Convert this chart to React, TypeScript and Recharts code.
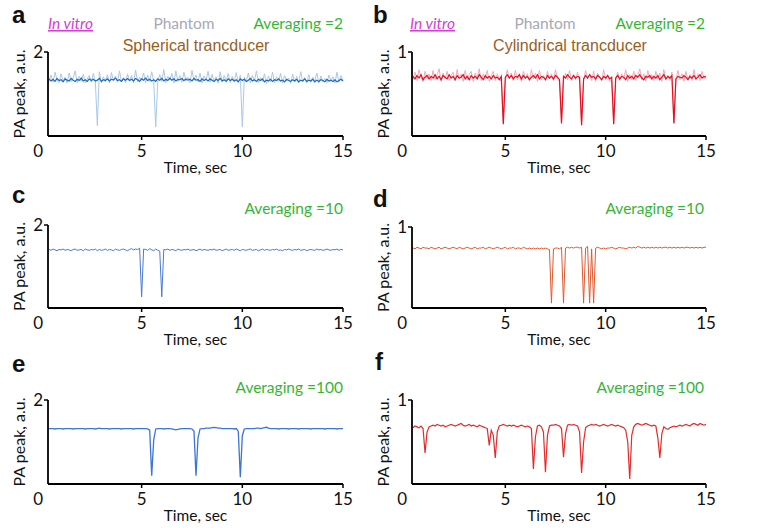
import React from "react";
import { Line, LineChart, XAxis, YAxis } from "recharts";

// sampling grid, seconds (0.4 … 15.0 in 0.1 s steps)
const sampleTimes = Array.from({ length: 147 }, (_, i) => Math.round((0.4 + i * 0.1) * 10) / 10);
const timeTicks = [0.35, 5, 10, 15];

// a – spherical, averaging 2 (dark core + light spikes)
const darkA = [
  1.36, 1.31, 1.35, 1.30, 1.37, 1.32, 1.34, 1.29, 1.36, 1.33,
  1.31, 1.37, 1.33, 1.30, 1.35, 1.32, 1.38, 1.31, 1.34, 1.30,
  1.36, 1.32, 1.35, 1.31, 1.33, 1.37, 1.30, 1.34, 1.32, 1.36,
  1.31, 1.35, 1.33, 1.38, 1.32, 1.34, 1.30, 1.36, 1.33, 1.37,
  1.32, 1.35, 1.31, 1.37, 1.34, 1.30, 1.36, 1.33, 1.38, 1.32,
  1.35, 1.31, 1.34, 1.30, 1.36, 1.33, 1.37, 1.31, 1.35, 1.32,
  1.38, 1.33, 1.36, 1.31, 1.35, 1.34, 1.37, 1.32, 1.36, 1.33,
  1.35, 1.31, 1.37, 1.33, 1.34, 1.30, 1.36, 1.32, 1.35, 1.31,
  1.36, 1.33, 1.30, 1.35, 1.32, 1.37, 1.31, 1.34, 1.30, 1.36,
  1.32, 1.35, 1.31, 1.34, 1.29, 1.36, 1.32, 1.35, 1.30, 1.33,
  1.37, 1.31, 1.34, 1.30, 1.35, 1.32, 1.36, 1.29, 1.33, 1.31,
  1.35, 1.30, 1.34, 1.32, 1.36, 1.31, 1.33, 1.29, 1.35, 1.32,
  1.30, 1.34, 1.31, 1.35, 1.29, 1.33, 1.31, 1.36, 1.30, 1.33,
  1.31, 1.35, 1.29, 1.33, 1.30, 1.34, 1.32, 1.29, 1.35, 1.31,
  1.33, 1.30, 1.34, 1.29, 1.32, 1.35, 1.31,
];
const lightA = [
  1.30, 1.45, 1.28, 1.52, 1.33, 1.27, 1.48, 1.31, 1.40, 1.26,
  1.50, 1.29, 1.38, 1.55, 1.27, 1.42, 1.30, 1.47, 1.26, 1.36,
  1.44, 1.28, 1.49, 1.30, 0.25, 1.53, 1.27, 1.41, 1.29, 1.46,
  1.26, 1.51, 1.32, 1.43, 1.28, 1.55, 1.30, 1.39, 1.27, 1.48,
  1.31, 1.44, 1.26, 1.57, 1.29, 1.40, 1.33, 1.50, 1.27, 1.45,
  1.29, 1.53, 1.31, 0.22, 1.28, 1.46, 1.30, 1.58, 1.27, 1.42,
  1.33, 1.49, 1.26, 1.55, 1.30, 1.44, 1.28, 1.52, 1.31, 1.40,
  1.27, 1.56, 1.32, 1.45, 1.29, 1.50, 1.26, 1.43, 1.33, 1.54,
  1.28, 1.47, 1.30, 1.41, 1.26, 1.53, 1.29, 1.44, 1.31, 1.49,
  1.27, 1.42, 1.30, 1.51, 1.28, 1.45, 0.22, 1.40, 1.29, 1.50,
  1.26, 1.44, 1.31, 1.55, 1.27, 1.39, 1.30, 1.48, 1.25, 1.43,
  1.29, 1.52, 1.27, 1.41, 1.30, 1.49, 1.26, 1.44, 1.31, 1.38,
  1.25, 1.47, 1.29, 1.42, 1.27, 1.53, 1.30, 1.39, 1.26, 1.46,
  1.28, 1.40, 1.31, 1.50, 1.26, 1.43, 1.29, 1.37, 1.27, 1.45,
  1.30, 1.41, 1.26, 1.52, 1.28, 1.44, 1.32,
];

// b – cylindrical, averaging 2
const darkB = [
  0.71, 0.68, 0.72, 0.69, 0.73, 0.67, 0.70, 0.72, 0.68, 0.71,
  0.69, 0.73, 0.68, 0.71, 0.67, 0.72, 0.70, 0.68, 0.73, 0.69,
  0.71, 0.67, 0.72, 0.69, 0.70, 0.73, 0.68, 0.71, 0.67, 0.72,
  0.69, 0.71, 0.68, 0.73, 0.70, 0.67, 0.72, 0.69, 0.71, 0.68,
  0.72, 0.69, 0.70, 0.67, 0.71, 0.14, 0.70, 0.73, 0.69, 0.72,
  0.68, 0.71, 0.70, 0.73, 0.68, 0.72, 0.69, 0.71, 0.67, 0.70,
  0.72, 0.69, 0.73, 0.68, 0.71, 0.70, 0.67, 0.72, 0.69, 0.71,
  0.68, 0.72, 0.70, 0.67, 0.15, 0.71, 0.69, 0.73, 0.70, 0.68,
  0.72, 0.69, 0.71, 0.70, 0.13, 0.68, 0.72, 0.69, 0.73, 0.70,
  0.71, 0.68, 0.72, 0.70, 0.67, 0.71, 0.69, 0.72, 0.68, 0.70,
  0.14, 0.69, 0.72, 0.68, 0.71, 0.70, 0.67, 0.72, 0.69, 0.71,
  0.68, 0.72, 0.70, 0.73, 0.69, 0.67, 0.71, 0.70, 0.72, 0.68,
  0.71, 0.69, 0.72, 0.67, 0.70, 0.73, 0.68, 0.71, 0.69, 0.72,
  0.15, 0.68, 0.71, 0.70, 0.69, 0.72, 0.70, 0.67, 0.71, 0.69,
  0.72, 0.68, 0.70, 0.73, 0.69, 0.71, 0.70,
];
const lightB = [
  0.67, 0.76, 0.66, 0.79, 0.70, 0.65, 0.77, 0.68, 0.74, 0.66,
  0.78, 0.67, 0.73, 0.80, 0.65, 0.75, 0.68, 0.77, 0.66, 0.72,
  0.76, 0.66, 0.79, 0.68, 0.74, 0.65, 0.78, 0.67, 0.73, 0.77,
  0.65, 0.75, 0.69, 0.80, 0.66, 0.74, 0.68, 0.78, 0.65, 0.72,
  0.77, 0.66, 0.74, 0.68, 0.65, 0.16, 0.66, 0.79, 0.68, 0.75,
  0.66, 0.78, 0.67, 0.73, 0.65, 0.77, 0.69, 0.74, 0.66, 0.79,
  0.68, 0.75, 0.65, 0.78, 0.67, 0.72, 0.66, 0.77, 0.68, 0.74,
  0.66, 0.79, 0.68, 0.65, 0.17, 0.66, 0.75, 0.67, 0.78, 0.66,
  0.73, 0.67, 0.76, 0.65, 0.12, 0.66, 0.78, 0.68, 0.74, 0.66,
  0.77, 0.65, 0.75, 0.69, 0.66, 0.79, 0.67, 0.73, 0.65, 0.66,
  0.15, 0.67, 0.76, 0.66, 0.74, 0.68, 0.79, 0.65, 0.73, 0.67,
  0.77, 0.66, 0.72, 0.80, 0.67, 0.74, 0.65, 0.78, 0.68, 0.73,
  0.66, 0.77, 0.68, 0.75, 0.65, 0.79, 0.67, 0.72, 0.66, 0.76,
  0.16, 0.66, 0.78, 0.67, 0.74, 0.65, 0.77, 0.68, 0.73, 0.66,
  0.79, 0.67, 0.74, 0.66, 0.77, 0.68, 0.72,
];

// c – spherical, averaging 10
const avg10Sph = [
  1.41, 1.39, 1.42, 1.40, 1.38, 1.41, 1.40, 1.42, 1.39, 1.41,
  1.40, 1.38, 1.41, 1.42, 1.39, 1.40, 1.41, 1.38, 1.42, 1.40,
  1.39, 1.41, 1.40, 1.42, 1.38, 1.41, 1.39, 1.40, 1.42, 1.39,
  1.41, 1.40, 1.38, 1.42, 1.40, 1.39, 1.41, 1.42, 1.40, 1.38,
  1.41, 1.43, 1.40, 1.42, 1.41, 1.44, 0.27, 1.42, 1.41, 1.39,
  1.43, 1.40, 1.38, 1.42, 1.39, 1.37, 0.27, 1.41, 1.40, 1.42,
  1.39, 1.41, 1.40, 1.38, 1.42, 1.40, 1.39, 1.41, 1.40, 1.42,
  1.39, 1.40, 1.41, 1.38, 1.40, 1.42, 1.39, 1.41, 1.40, 1.39,
  1.41, 1.40, 1.42, 1.39, 1.40, 1.41, 1.38, 1.40, 1.42, 1.39,
  1.40, 1.41, 1.39, 1.42, 1.40, 1.38, 1.41, 1.40, 1.39, 1.41,
  1.42, 1.39, 1.40, 1.41, 1.38, 1.40, 1.42, 1.39, 1.41, 1.40,
  1.39, 1.41, 1.40, 1.42, 1.39, 1.40, 1.38, 1.41, 1.40, 1.42,
  1.40, 1.39, 1.41, 1.40, 1.42, 1.39, 1.40, 1.41, 1.38, 1.40,
  1.41, 1.40, 1.39, 1.42, 1.40, 1.41, 1.39, 1.40, 1.42, 1.40,
  1.39, 1.41, 1.40, 1.42, 1.39, 1.41, 1.40,
];

// d – cylindrical, averaging 10
const avg10Cyl = [
  0.74, 0.73, 0.75, 0.74, 0.73, 0.75, 0.74, 0.74, 0.73, 0.75,
  0.74, 0.73, 0.74, 0.75, 0.73, 0.74, 0.75, 0.74, 0.73, 0.74,
  0.75, 0.74, 0.73, 0.75, 0.74, 0.73, 0.74, 0.75, 0.74, 0.73,
  0.74, 0.75, 0.73, 0.74, 0.74, 0.75, 0.73, 0.74, 0.75, 0.74,
  0.73, 0.74, 0.75, 0.74, 0.73, 0.74, 0.75, 0.73, 0.74, 0.74,
  0.75, 0.73, 0.74, 0.74, 0.73, 0.75, 0.74, 0.73, 0.74, 0.73,
  0.74, 0.73, 0.74, 0.73, 0.74, 0.73, 0.74, 0.73, 0.72, 0.06,
  0.73, 0.74, 0.74, 0.73, 0.75, 0.06, 0.74, 0.75, 0.74, 0.75,
  0.74, 0.75, 0.75, 0.74, 0.75, 0.06, 0.74, 0.76, 0.06, 0.73,
  0.06, 0.74, 0.75, 0.74, 0.73, 0.74, 0.73, 0.74, 0.74, 0.75,
  0.74, 0.73, 0.74, 0.75, 0.74, 0.74, 0.73, 0.74, 0.75, 0.74,
  0.75, 0.74, 0.76, 0.75, 0.74, 0.75, 0.74, 0.75, 0.74, 0.75,
  0.74, 0.75, 0.74, 0.75, 0.74, 0.75, 0.75, 0.74, 0.75, 0.74,
  0.75, 0.74, 0.75, 0.74, 0.75, 0.74, 0.75, 0.75, 0.74, 0.75,
  0.74, 0.75, 0.74, 0.75, 0.74, 0.75, 0.75,
];

// e – spherical, averaging 100
const avg100Sph = [
  1.32, 1.32, 1.32, 1.31, 1.32, 1.32, 1.32, 1.31, 1.32, 1.32,
  1.32, 1.32, 1.31, 1.32, 1.32, 1.32, 1.32, 1.32, 1.31, 1.32,
  1.32, 1.32, 1.32, 1.31, 1.32, 1.33, 1.32, 1.32, 1.32, 1.32,
  1.31, 1.32, 1.32, 1.32, 1.32, 1.32, 1.31, 1.32, 1.32, 1.32,
  1.32, 1.32, 1.31, 1.32, 1.32, 1.32, 1.32, 1.32, 1.32, 1.31,
  1.28, 0.20, 1.05, 1.31, 1.32, 1.32, 1.32, 1.31, 1.32, 1.32,
  1.32, 1.31, 1.30, 1.29, 1.30, 1.31, 1.32, 1.32, 1.32, 1.32,
  1.32, 1.31, 1.26, 0.20, 1.10, 1.31, 1.32, 1.32, 1.33, 1.33,
  1.33, 1.34, 1.35, 1.34, 1.33, 1.33, 1.32, 1.32, 1.32, 1.32,
  1.32, 1.32, 1.31, 1.32, 1.25, 0.16, 1.15, 1.31, 1.32, 1.32,
  1.32, 1.32, 1.32, 1.33, 1.33, 1.32, 1.33, 1.34, 1.35, 1.33,
  1.32, 1.32, 1.32, 1.32, 1.31, 1.32, 1.32, 1.32, 1.32, 1.31,
  1.32, 1.32, 1.32, 1.32, 1.31, 1.32, 1.32, 1.32, 1.32, 1.32,
  1.31, 1.32, 1.32, 1.32, 1.32, 1.32, 1.32, 1.31, 1.32, 1.32,
  1.32, 1.32, 1.32, 1.31, 1.32, 1.32, 1.32,
];

// f – cylindrical, averaging 100
const avg100Cyl = [
  0.67, 0.69, 0.68, 0.67, 0.69, 0.66, 0.37, 0.62, 0.68, 0.69,
  0.70, 0.69, 0.71, 0.70, 0.69, 0.70, 0.68, 0.69, 0.70, 0.71,
  0.70, 0.69, 0.70, 0.71, 0.72, 0.70, 0.69, 0.70, 0.71, 0.69,
  0.70, 0.69, 0.68, 0.70, 0.69, 0.68, 0.67, 0.66, 0.46, 0.64,
  0.58, 0.31, 0.62, 0.69, 0.70, 0.71, 0.70, 0.69, 0.70, 0.69,
  0.70, 0.69, 0.68, 0.69, 0.70, 0.69, 0.68, 0.69, 0.68, 0.66,
  0.18, 0.56, 0.69, 0.70, 0.68, 0.62, 0.14, 0.58, 0.69, 0.70,
  0.70, 0.71, 0.70, 0.69, 0.66, 0.32, 0.60, 0.70, 0.71, 0.70,
  0.71, 0.70, 0.69, 0.62, 0.13, 0.50, 0.67, 0.69, 0.70, 0.71,
  0.70, 0.71, 0.70, 0.69, 0.70, 0.71, 0.70, 0.69, 0.70, 0.71,
  0.70, 0.69, 0.70, 0.69, 0.68, 0.67, 0.64, 0.50, 0.06, 0.58,
  0.68, 0.71, 0.72, 0.71, 0.70, 0.71, 0.72, 0.71, 0.70, 0.69,
  0.70, 0.69, 0.55, 0.31, 0.60, 0.68, 0.66, 0.65, 0.67, 0.68,
  0.69, 0.68, 0.69, 0.70, 0.69, 0.70, 0.71, 0.70, 0.69, 0.71,
  0.72, 0.71, 0.70, 0.72, 0.71, 0.70, 0.71,
];

const rows = sampleTimes.map((t, i) => ({
  t,
  darkA: darkA[i],
  lightA: lightA[i],
  darkB: darkB[i],
  lightB: lightB[i],
  avg10Sph: avg10Sph[i],
  avg10Cyl: avg10Cyl[i],
  avg100Sph: avg100Sph[i],
  avg100Cyl: avg100Cyl[i],
}));

const FONT = "Lato, 'Open Sans', sans-serif";
const TICK_SIZE = 4;
const TICK_MARGIN = 5;

const TimeTick = (props: any) => {
  const { x, y, payload } = props;
  const first = payload.value < 1;
  return (
    <g>
      {!first && (
        <line x1={x} x2={x} y1={y - TICK_MARGIN - TICK_SIZE} y2={y - TICK_MARGIN} stroke="#000" strokeWidth={1.5} />
      )}
      <text
        x={first ? x - 5 : x}
        y={y}
        dy="0.71em"
        textAnchor={first ? "end" : "middle"}
        fontFamily={FONT}
        fontSize={17}
        fill="#111"
      >
        {first ? "0" : payload.value}
      </text>
    </g>
  );
};

const TimeTitle = (props: any) => {
  const vb = props.viewBox;
  return (
    <text x={vb.x + vb.width / 2} y={vb.y + 37} textAnchor="middle" fontFamily={FONT} fontSize={15.5} fill="#111">
      Time, sec
    </text>
  );
};

type Series = { key: string; color: string; width: number };

function Panel({ left, top, w, h, plotTop, axisY, yW, right, yMax, labelX, series }: {
  left: number; top: number; w: number; h: number; plotTop: number; axisY: number;
  yW: number; right: number; yMax: number; labelX: number; series: Series[];
}) {
  return (
    <div style={{ position: "absolute", left, top, width: w, height: h }}>
      <LineChart width={w} height={h} data={rows} margin={{ top: plotTop, right, left: 0, bottom: 0 }}>
        <XAxis
          dataKey="t"
          type="number"
          domain={[0.35, 15]}
          ticks={timeTicks}
          height={h - axisY}
          tickLine={false}
          tickSize={TICK_SIZE}
          tickMargin={TICK_MARGIN}
          tick={<TimeTick />}
          axisLine={{ stroke: "#000", strokeWidth: 1.8 }}
          label={<TimeTitle />}
        />
        <YAxis
          type="number"
          domain={[0, yMax]}
          ticks={[yMax]}
          width={yW}
          tickSize={TICK_SIZE}
          tickMargin={1}
          tickLine={{ stroke: "#000", strokeWidth: 1.5 }}
          axisLine={{ stroke: "#000", strokeWidth: 1.8 }}
          tick={{ fontFamily: FONT, fontSize: 17, fill: "#111" }}
          label={{
            value: "PA peak, a.u.",
            angle: -90,
            position: "insideLeft",
            offset: labelX,
            style: { textAnchor: "middle", fontFamily: FONT, fontSize: 16, fill: "#111" },
          }}
        />
        {series.map((s) => (
          <Line
            key={s.key}
            dataKey={s.key}
            type="linear"
            stroke={s.color}
            strokeWidth={s.width}
            dot={false}
            isAnimationActive={false}
          />
        ))}
      </LineChart>
    </div>
  );
}

const letterStyle = { fontFamily: "'Liberation Sans', Arial, sans-serif", fontWeight: 700, fontSize: 24, fill: "#111" };
const noteFont = { fontFamily: FONT, fontSize: 15.5 };
const titleFont = { fontFamily: "'Liberation Sans', Arial, sans-serif", fontSize: 16, fill: "#9b5d1c" };
const GREEN = "#35b535";

export default function App() {
  return (
    <div style={{ position: "absolute", left: 0, top: 0, width: 762, height: 528, background: "#fff", overflow: "hidden" }}>
      <Panel left={0} top={0} w={380} h={180} plotTop={52} axisY={136} yW={48} right={37} yMax={2} labelX={19}
        series={[{ key: "lightA", color: "#a9c8ea", width: 1 }, { key: "darkA", color: "#1f6cb4", width: 1.2 }]} />
      <Panel left={366} top={0} w={396} h={180} plotTop={52} axisY={136} yW={46} right={56} yMax={1} labelX={17}
        series={[{ key: "lightB", color: "#f2a9bb", width: 1 }, { key: "darkB", color: "#e3101f", width: 1.2 }]} />
      <Panel left={0} top={172} w={380} h={178} plotTop={53} axisY={136} yW={48} right={37} yMax={2} labelX={19}
        series={[{ key: "avg10Sph", color: "#4a7ad2", width: 1 }]} />
      <Panel left={366} top={172} w={396} h={178} plotTop={55} axisY={136} yW={46} right={56} yMax={1} labelX={17}
        series={[{ key: "avg10Cyl", color: "#e0592f", width: 1 }]} />
      <Panel left={0} top={350} w={380} h={178} plotTop={50} axisY={134} yW={48} right={37} yMax={2} labelX={19}
        series={[{ key: "avg100Sph", color: "#3d74d8", width: 1.3 }]} />
      <Panel left={366} top={350} w={396} h={178} plotTop={50} axisY={134} yW={46} right={56} yMax={1} labelX={17}
        series={[{ key: "avg100Cyl", color: "#e32b2b", width: 1.2 }]} />

      <svg width={762} height={528} style={{ position: "absolute", left: 0, top: 0, pointerEvents: "none" }}>
        <text x={12} y={23} {...letterStyle}>a</text>
        <text x={373} y={23} {...letterStyle}>b</text>
        <text x={12} y={203} {...letterStyle}>c</text>
        <text x={373} y={207} {...letterStyle}>d</text>
        <text x={12} y={372} {...letterStyle}>e</text>
        <text x={375} y={370} {...letterStyle}>f</text>

        <text x={48} y={29} {...noteFont} fontStyle="italic" fill="#d83ad8" textDecoration="underline">In vitro</text>
        <text x={184} y={29} {...noteFont} fill="#a8a8b6" textAnchor="middle">Phantom</text>
        <text x={343} y={29} {...noteFont} fill={GREEN} textAnchor="end">Averaging =2</text>
        <text x={196} y={51} {...titleFont} textAnchor="middle">Spherical trancducer</text>

        <text x={410} y={29} {...noteFont} fontStyle="italic" fill="#d83ad8" textDecoration="underline">In vitro</text>
        <text x={545} y={29} {...noteFont} fill="#a8a8b6" textAnchor="middle">Phantom</text>
        <text x={705} y={29} {...noteFont} fill={GREEN} textAnchor="end">Averaging =2</text>
        <text x={570} y={51} {...titleFont} textAnchor="middle">Cylindrical trancducer</text>

        <text x={343} y={214} {...noteFont} fill={GREEN} textAnchor="end">Averaging =10</text>
        <text x={704} y={214} {...noteFont} fill={GREEN} textAnchor="end">Averaging =10</text>
        <text x={343} y={393} {...noteFont} fill={GREEN} textAnchor="end">Averaging =100</text>
        <text x={704} y={393} {...noteFont} fill={GREEN} textAnchor="end">Averaging =100</text>
      </svg>
    </div>
  );
}
